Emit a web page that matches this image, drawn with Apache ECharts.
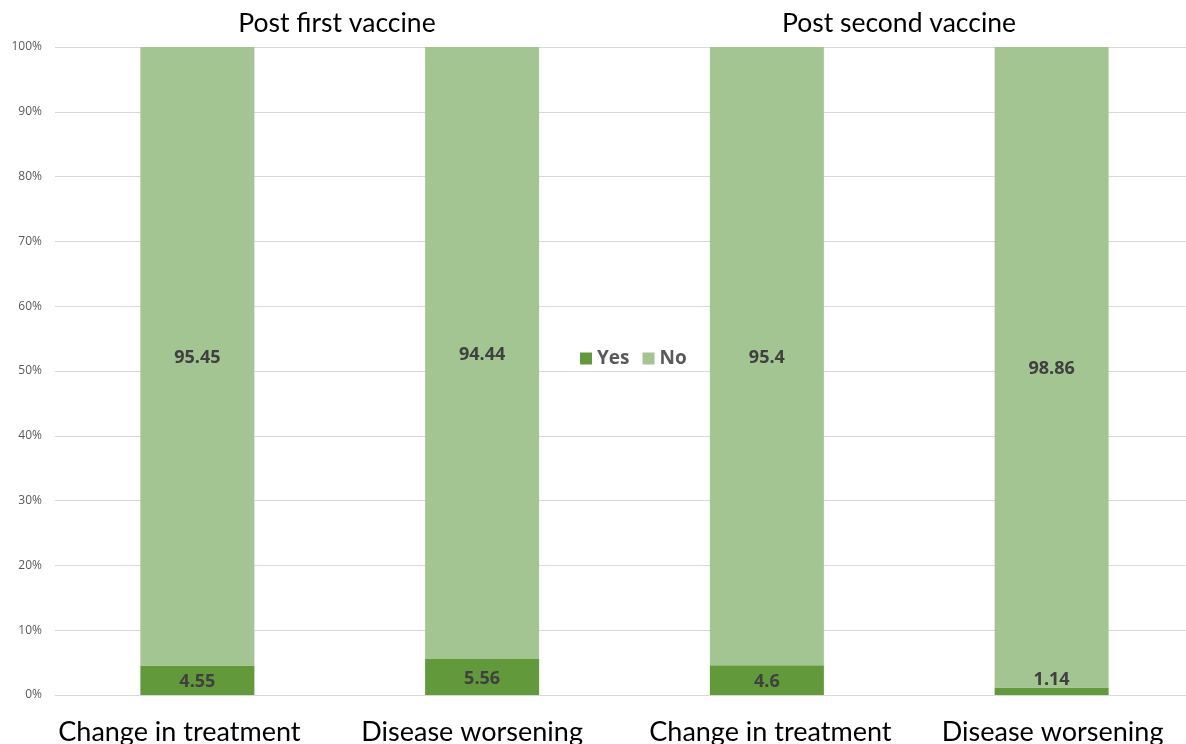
<!DOCTYPE html>
<html>
<head>
<meta charset="utf-8">
<script src="https://cdn.jsdelivr.net/npm/echarts@6/dist/echarts.min.js"></script>
<style>
  html, body { margin: 0; padding: 0; background: #fff; }
  #chart { width: 1186px; height: 744px; }
</style>
</head>
<body>
<div id="chart"></div>
<script>
// Categories along the x axis (two per vaccine dose)
const categories = ['Change in treatment', 'Disease worsening', 'Change in treatment', 'Disease worsening'];
// Percentages per category
const yesValues = [4.55, 5.56, 4.6, 1.14];
const noValues = [95.45, 94.44, 95.4, 98.86];
// Group headings above the pairs of bars
const groupTitles = ['Post first vaccine', 'Post second vaccine'];

const chart = echarts.init(document.getElementById('chart'));

const labelStyle = {
  show: true,
  position: 'inside',
  offset: [0, 2],
  fontFamily: 'Open Sans',
  fontWeight: 'bold',
  fontSize: 18,
  color: '#404040'
};

// Category label styling; padding nudges each label sideways under its bar
const catFont = { fontFamily: 'Lato', fontSize: 27, color: '#000' };
const catRich = {
  c0: Object.assign({ padding: [0, 36, 0, 0] }, catFont),
  c1: Object.assign({ padding: [0, 20, 0, 0] }, catFont),
  c2: Object.assign({ padding: [0, 0, 0, 7] }, catFont),
  c3: Object.assign({ padding: [0, 0, 0, 2] }, catFont)
};

chart.setOption({
  animation: false,
  title: [
    { text: groupTitles[0], left: 332, top: 5, textAlign: 'center',
      textStyle: { fontFamily: 'Lato', fontWeight: 'normal', fontSize: 26.5, color: '#000' } },
    { text: groupTitles[1], left: 894, top: 5, textAlign: 'center',
      textStyle: { fontFamily: 'Lato', fontWeight: 'normal', fontSize: 26.5, color: '#000' } }
  ],
  legend: {
    data: ['Yes', 'No'],
    left: 575,
    top: 344,
    itemWidth: 12,
    itemHeight: 12,
    itemGap: 13,
    icon: 'rect',
    textStyle: { fontFamily: 'Open Sans', fontWeight: 'bold', fontSize: 19, color: '#595959' }
  },
  grid: { left: 55, right: -8, top: 47, bottom: 49, outerBoundsMode: 'none', containLabel: false },
  xAxis: {
    type: 'category',
    data: categories,
    axisLine: { show: true, lineStyle: { color: '#d9d9d9' } },
    axisTick: { show: false },
    axisLabel: {
      interval: 0,
      margin: 24,
      formatter: (value, index) => `{c${index}|${value}}`,
      rich: catRich
    }
  },
  yAxis: {
    type: 'value',
    min: 0,
    max: 100,
    interval: 10,
    axisLine: { show: false },
    axisTick: { show: false },
    splitLine: { lineStyle: { color: '#d9d9d9', width: 1 } },
    axisLabel: { formatter: '{value}%', fontFamily: 'Open Sans', fontSize: 12, color: '#595959', margin: 13 }
  },
  series: [
    {
      name: 'Yes',
      type: 'bar',
      stack: 'total',
      barWidth: 114,
      itemStyle: { color: '#62993B' },
      label: labelStyle,
      data: yesValues.map((v, i) => i === 3
        ? { value: v, label: { position: 'top', distance: 1 } }
        : v)
    },
    {
      name: 'No',
      type: 'bar',
      stack: 'total',
      barWidth: 114,
      itemStyle: { color: '#A2C592' },
      label: labelStyle,
      data: noValues
    }
  ]
});
</script>
</body>
</html>
